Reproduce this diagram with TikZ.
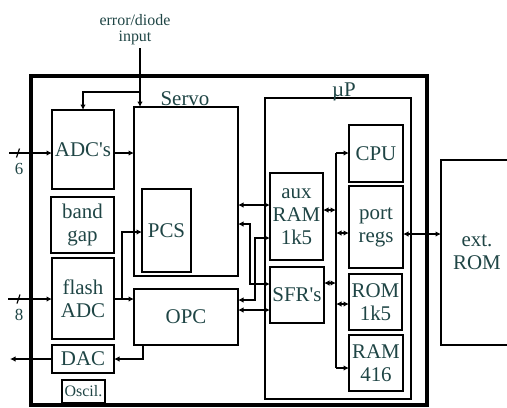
\documentclass[tikz,border=0pt]{standalone}
\usepackage{fontspec}
\setmainfont{Liberation Serif}
\usetikzlibrary{arrows.meta}
\definecolor{txt}{HTML}{1F4545}
\begin{document}
\begin{tikzpicture}[x=1bp,y=-1bp,
  >={Latex[length=5.5bp,width=5.5bp]},
  line width=1.2bp,
  every node/.style={text=txt},
  blk/.style={draw=black, line width=1.2bp, inner sep=0pt, outer sep=0pt, align=center,
    font=\fontsize{21}{23}\selectfont},
  lbl/.style={inner sep=0pt, font=\fontsize{21}{23}\selectfont},
  small/.style={inner sep=0pt, align=center, font=\fontsize{16}{16}\selectfont},
]
\useasboundingbox (0,0) rectangle (507,407);

% outer chip boundary
\draw[line width=3.8bp] (31,76) rectangle (427,405);

% left column
\node[blk, minimum width=62bp, minimum height=79bp] (adc) at (83,149.5) {ADC\textquotesingle s};
\node[blk, minimum width=63bp, minimum height=56bp] (bandgap) at (82.5,225) {band\\gap};
\node[blk, minimum width=62bp, minimum height=81bp] (flash) at (83,298.5) {flash\\ADC};
\node[blk, minimum width=62bp, minimum height=28bp] (dac) at (83,359) {DAC};
\node[blk, minimum width=43bp, minimum height=23bp, font=\fontsize{16}{16}\selectfont] (oscil) at (83.5,391.5) {Oscil.};

% servo
\node[blk, minimum width=104bp, minimum height=169bp] (servo) at (186,191.5) {};
\node[lbl, anchor=base] (servolbl) at (185,105) {Servo};
\node[blk, minimum width=49bp, minimum height=83bp] (pcs) at (166.5,230.5) {PCS};
\node[blk, minimum width=104bp, minimum height=56bp] (opc) at (186,317) {OPC};

% microprocessor
\node[blk, minimum width=146bp, minimum height=301bp] (up) at (338,248.5) {};
\node[lbl, anchor=base] (uplbl) at (344,96) {µP};
\node[blk, minimum width=53bp, minimum height=87bp] (auxram) at (296.5,216.5) {aux\\RAM\\1k5};
\node[blk, minimum width=54bp, minimum height=56bp] (sfr) at (297,295) {SFR\textquotesingle s};
\node[blk, minimum width=54bp, minimum height=57bp] (cpu) at (376,153.5) {CPU};
\node[blk, minimum width=54bp, minimum height=82bp] (portregs) at (376,227) {port\\regs};
\node[blk, minimum width=53bp, minimum height=56bp] (rom) at (375.5,302) {ROM\\1k5};
\node[blk, minimum width=54bp, minimum height=56bp] (ram) at (376,363) {RAM\\416};

% external ROM (extends past the right edge)
\node[blk, minimum width=72bp, minimum height=185bp] (extrom) at (477,252.5) {ext.\\ROM};

% error/diode input
\node[small] (errtxt) at (135,29.5) {error/diode\\input};
\coordinate (ei) at (140,48);
\coordinate (eb) at (140,92);
\draw[->] (ei) -- (ei |- servo.north);
\draw[->] (eb) -| (adc.north);

% 6-bit input
\coordinate (in6) at (9,153);
\draw[->] (in6) -- (adc.west |- in6);
\draw (16.5,157.5) -- (19.5,148.5);
\node[inner sep=0pt, font=\fontsize{17}{17}\selectfont] (n6) at (19,169) {6};
\draw[->] (adc.east |- in6) -- (servo.west |- in6);

% 8-bit input
\coordinate (in8) at (8,299);
\draw[->] (in8) -- (flash.west |- in8);
\draw (17,303.5) -- (20,294.5);
\node[inner sep=0pt, font=\fontsize{17}{17}\selectfont] (n8) at (19,315) {8};
\draw[->] (flash.east |- in8) -- (opc.west |- in8);
\draw[->] (122,299) |- (pcs.west |- 0,232);

% OPC to DAC and DAC out
\draw[->] (opc.south west) ++(9,0) |- (dac.east);
\coordinate (out) at (10,359);
\draw[->] (dac.west) -- (out);

% servo / OPC <-> microprocessor
\draw[<->] (servo.east |- 0,205) -- (auxram.west |- 0,205);
\draw[<->] (servo.east |- 0,224) -- (250,224) -- (250,284) -- (sfr.west |- 0,284);
\draw[<->] (auxram.west |- 0,238) -- (255,238) -- (255,300) -- (opc.east |- 0,300);
\draw[<->] (opc.east |- 0,310) -- (sfr.west |- 0,310);

% internal bus
\coordinate (bt) at (336,153);
\coordinate (bb) at (336,368);
\draw (bt) -- (bb);
\draw[->] (bt) -- (cpu.west |- bt);
\draw[->] (bb) -- (ram.west |- bb);
\draw[<->] (auxram.east |- 0,210) -- (bt |- 0,210);
\draw[<->] (bt |- 0,233) -- (portregs.west |- 0,233);
\draw[<->] (sfr.east |- 0,283) -- (bt |- 0,283);
\draw[<->] (bt |- 0,304) -- (rom.west |- 0,304);

% port regs <-> external ROM
\draw[<->] (portregs.east |- 0,234) -- (extrom.west |- 0,234);
\end{tikzpicture}
\end{document}
